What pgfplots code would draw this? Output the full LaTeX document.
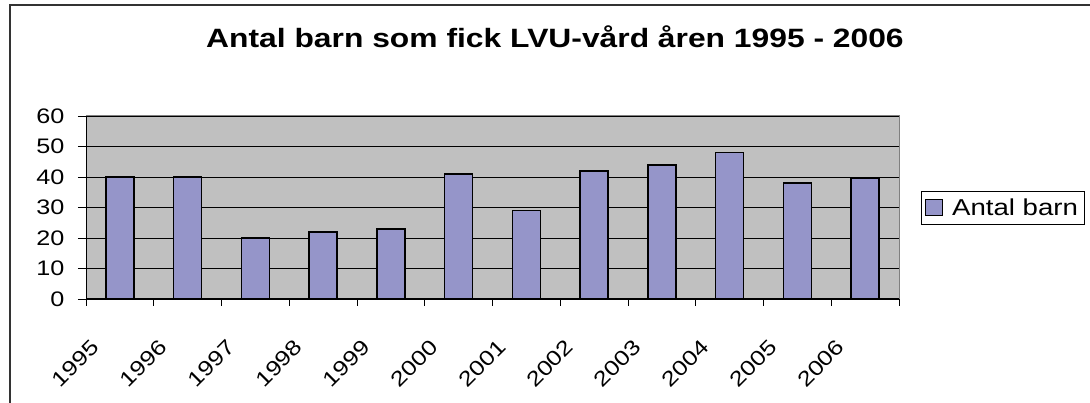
\documentclass[border=0pt]{standalone}
\usepackage{pgfplots}
\pgfplotsset{compat=1.18}
\usepackage{fontspec}
\setmainfont{Liberation Sans}[FakeStretch=1.2]
\definecolor{barfill}{RGB}{149,149,201}
\definecolor{plotbg}{RGB}{192,192,192}
\begin{document}
\begin{tikzpicture}[x=1pt,y=1pt]
\useasboundingbox (0,0) rectangle (1090,403);
\draw[line width=2pt, black!80] (10,-20) -- (10,398) -- (1120,398);
\node[font=\bfseries\fontsize{26.5}{32}\selectfont, anchor=base] at (555,355) {Antal barn som fick LVU-vård åren 1995 - 2006};
\begin{axis}[
  at={(86pt,104pt)}, anchor=south west,
  scale only axis, width=813pt, height=183pt,
  ymin=0, ymax=60, ytick={0,10,...,60},
  xmin=-0.5, xmax=11.5,
  xtick={0,...,11},
  xticklabels={1995,1996,1997,1998,1999,2000,2001,2002,2003,2004,2005,2006},
  minor xtick={-0.5,0.5,...,11.5},
  major x tick style={draw=none},
  xtick pos=bottom, ytick pos=left,
  tick align=outside,
  major tick length=8pt, minor tick length=7pt,
  tick style={black, line width=0.8pt},
  axis background/.style={fill=plotbg},
  axis line style={draw=gray, line width=1pt},
  ymajorgrids, grid style={black, line width=0.8pt},
  ybar, bar width=28pt,
  /pgf/number format/assume math mode=true,
  tick label style={font=\fontsize{21}{25}\selectfont},
  yticklabel style={xshift=-10pt},
  xticklabel style={xshift=-22pt, yshift=-34pt, rotate=45, anchor=east},
  legend style={at={(rel axis cs:1.027,0.499)}, anchor=west, draw=black,
    font=\fontsize{23}{27}\selectfont, inner xsep=4pt, inner ysep=5pt,
    legend cell align=left},
  legend image code/.code={\draw[fill=barfill, draw=black, line width=1pt] (0pt,-8pt) rectangle (17pt,8pt);},
  clip=false,
]
\addplot[fill=barfill, draw=black, line width=1.6pt] coordinates {
(0,40) (1,40) (2,20) (3,22) (4,23) (5,41) (6,29) (7,42) (8,44) (9,48) (10,38) (11,39.5)};
\addlegendentry{\hspace*{7pt}Antal barn\hspace{20pt}}
\draw[black, line width=1pt] (rel axis cs:0,1) -- (rel axis cs:0,0) -- (rel axis cs:1,0);
\end{axis}
\end{tikzpicture}
\end{document}
